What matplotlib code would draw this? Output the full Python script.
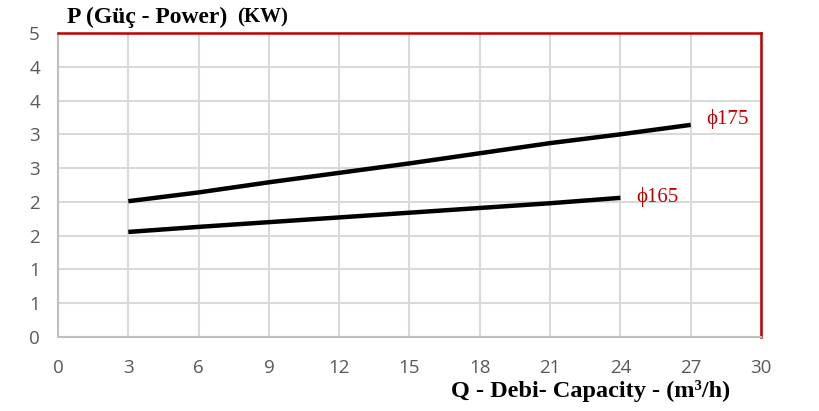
import matplotlib
matplotlib.use("Agg")
import matplotlib.pyplot as plt
import numpy as np

q175 = [3, 6, 9, 12, 15, 18, 21, 24, 27]
p175 = [2.01, 2.14, 2.29, 2.43, 2.57, 2.72, 2.87, 3.00, 3.14]
q165 = [3, 6, 9, 12, 15, 18, 21, 24]
p165 = [1.555, 1.63, 1.70, 1.77, 1.84, 1.91, 1.98, 2.06]
xticks = [0, 3, 6, 9, 12, 15, 18, 21, 24, 27, 30]
yticks = [0, 0.5, 1, 1.5, 2, 2.5, 3, 3.5, 4, 4.5]
ylabels = ["0", "1", "1", "2", "2", "3", "3", "4", "4", "5"]

fig = plt.figure(figsize=(8.19, 4.11), dpi=100)
ax = fig.add_axes([58/819, 74/411, (761-58)/819, (337-33)/411])
ax.set_xlim(0, 30)
ax.set_ylim(0, 4.5)
ax.set_xticks(xticks)
ax.set_yticks(yticks)
ax.set_yticklabels(ylabels)
ax.tick_params(length=0, labelsize=13.5, labelcolor="#595959")
for lbl in ax.get_xticklabels() + ax.get_yticklabels():
    lbl.set_family("Open Sans")
ax.tick_params(axis="y", pad=13)
ax.tick_params(axis="x", pad=16)
ax.grid(True, color="#d9d9d9", linewidth=1.5)
ax.set_axisbelow(True)
for s in ["left", "bottom"]:
    ax.spines[s].set_color("#bfbfbf")
    ax.spines[s].set_linewidth(1.5)
for s in ["top", "right"]:
    ax.spines[s].set_color("#c00000")
    ax.spines[s].set_linewidth(1.8)

ax.plot(q175, p175, color="black", linewidth=3.2, solid_capstyle="butt")
ax.plot(q165, p165, color="black", linewidth=3.2, solid_capstyle="butt")

ax.annotate("ϕ175", (q175[-1], p175[-1]), xytext=(11.5, 4), textcoords="offset points",
            color="#c00000", fontsize=15, family="Liberation Serif", va="center", ha="left")
ax.annotate("ϕ165", (q165[-1], p165[-1]), xytext=(11.5, 0.5), textcoords="offset points",
            color="#c00000", fontsize=15, family="Liberation Serif", va="center", ha="left")

fig.text(67/819, 1 - 17/411, "P (Güç - Power)", family="Liberation Serif", fontweight="bold",
         fontsize=17, ha="left", va="center")
fig.text(237/819, 1 - 17/411, "(KW)", family="Liberation Serif", fontweight="bold",
         fontsize=15, ha="left", va="center")
fig.text(591/819, 1 - 391/411, "Q - Debi- Capacity - (m³/h)", family="Liberation Serif",
         fontweight="bold", fontsize=17.5, ha="center", va="center")

fig.savefig("out.png", dpi=100)
